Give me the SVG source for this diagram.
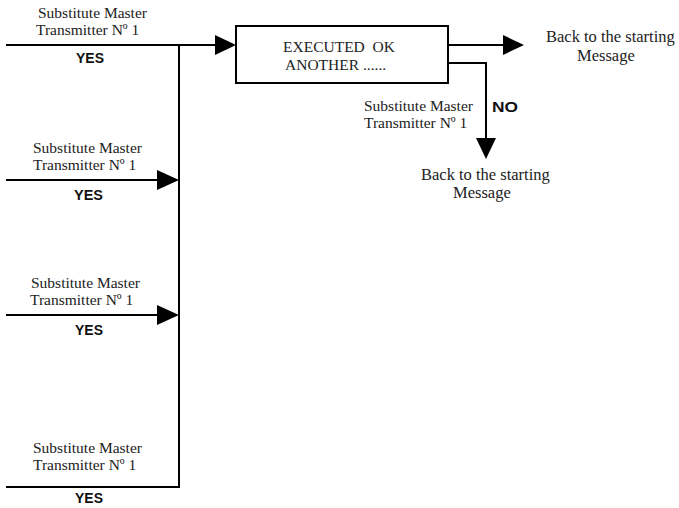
<svg xmlns="http://www.w3.org/2000/svg" width="679" height="508" viewBox="0 0 679 508">
<style>
.t{font-family:"Liberation Serif","Times New Roman",serif;font-size:15.5px;fill:#222}
.b{font-family:"Liberation Serif","Times New Roman",serif;font-size:16.5px;fill:#222}
.y{font-family:"Liberation Sans",Arial,sans-serif;font-size:14px;font-weight:bold;fill:#111}
.ln{stroke:#000;stroke-width:2;fill:none}
.ah{fill:#000}
</style>
<rect width="679" height="508" fill="#fff"/>
<g id="connectors">
<path class="ln" d="M6,45 H216"/>
<polygon class="ah" points="215,35 236,45 215,55"/>
<path class="ln" d="M179,45 V487 H6"/>
<path class="ln" d="M6,180 H158"/>
<polygon class="ah" points="157,170 179,180 157,190"/>
<path class="ln" d="M6,315 H158"/>
<polygon class="ah" points="157,305 179,315 157,325"/>
<path class="ln" d="M448,45 H504"/>
<polygon class="ah" points="503,35 524,45 503,55"/>
<path class="ln" d="M448,63 H486 V139"/>
<polygon class="ah" points="476,138 496,138 486,159"/>
</g>
<g id="box">
<rect x="236" y="26" width="212" height="57" fill="#fff" stroke="#000" stroke-width="2"/>
<text class="t" x="283" y="52" style="white-space:pre">EXECUTED  OK</text>
<text class="t" x="285" y="70">ANOTHER ......</text>
</g>
<g id="in1">
<text class="t" x="38" y="18">Substitute Master</text>
<text class="t" x="36" y="35">Transmitter Nº 1</text>
<text class="y" x="76" y="63" textLength="28" lengthAdjust="spacingAndGlyphs">YES</text>
</g>
<g id="in2">
<text class="t" x="33" y="153">Substitute Master</text>
<text class="t" x="33" y="170">Transmitter Nº 1</text>
<text class="y" x="74" y="200" textLength="29" lengthAdjust="spacingAndGlyphs">YES</text>
</g>
<g id="in3">
<text class="t" x="31" y="288">Substitute Master</text>
<text class="t" x="30" y="305">Transmitter Nº 1</text>
<text class="y" x="75" y="335" textLength="28" lengthAdjust="spacingAndGlyphs">YES</text>
</g>
<g id="in4">
<text class="t" x="33" y="453">Substitute Master</text>
<text class="t" x="33" y="470">Transmitter Nº 1</text>
<text class="y" x="75" y="503" textLength="28" lengthAdjust="spacingAndGlyphs">YES</text>
</g>
<g id="out1">
<text class="b" x="546" y="42">Back to the starting</text>
<text class="b" x="577" y="61">Message</text>
</g>
<g id="no">
<text class="t" x="364" y="111">Substitute Master</text>
<text class="t" x="364" y="128">Transmitter Nº 1</text>
<text class="y" x="492" y="112" textLength="26" lengthAdjust="spacingAndGlyphs">NO</text>
</g>
<g id="out2">
<text class="b" x="421" y="180">Back to the starting</text>
<text class="b" x="453" y="198">Message</text>
</g>
</svg>
